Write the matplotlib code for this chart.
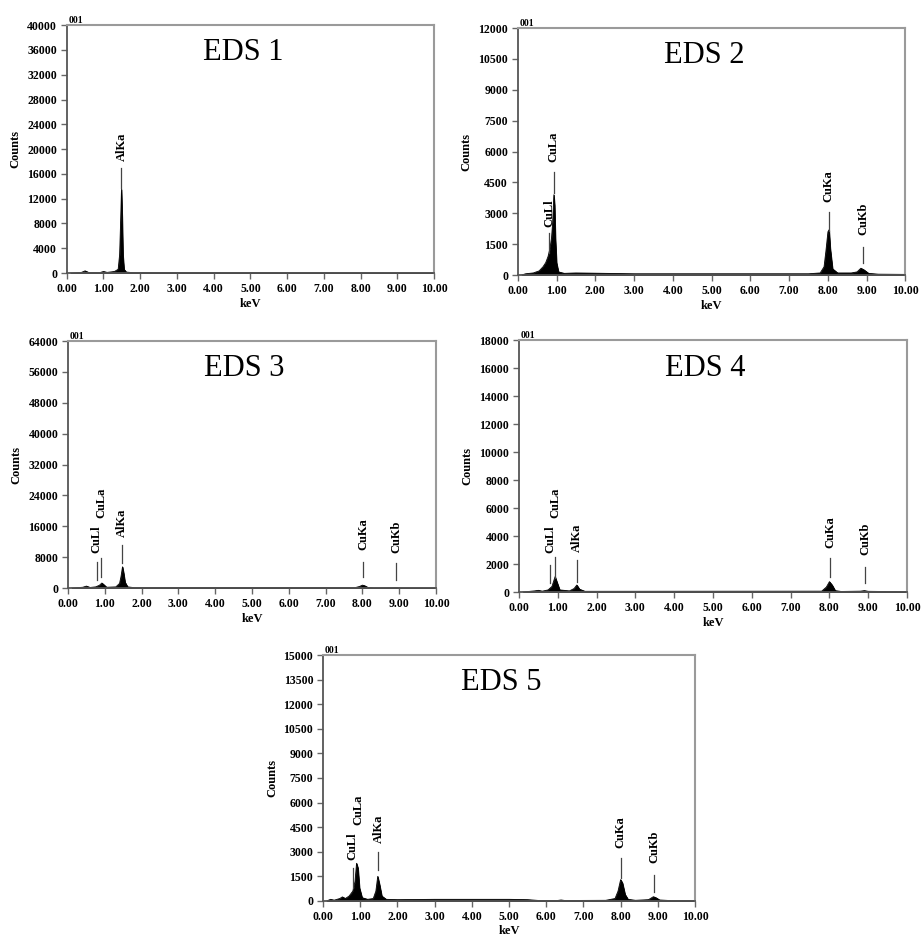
import matplotlib.pyplot as plt
import matplotlib.transforms as mtransforms
from matplotlib.ticker import FormatStrFormatter, MultipleLocator

plt.rcParams['font.family'] = ['Liberation Serif', 'DejaVu Serif']

# spectra: energy (keV) and counts
eds1_kev = [0.10, 0.40, 0.50, 0.60, 0.90, 1.00, 1.10, 1.30, 1.40, 1.44, 1.47, 1.49, 1.51, 1.53, 1.56, 1.62, 1.80, 10.0]
eds1_cts = [0, 100, 350, 80, 60, 250, 100, 250, 600, 3000, 9000, 13500, 9000, 3000, 600, 150, 60, 30]

eds2_kev = [0.10, 0.20, 0.40, 0.55, 0.65, 0.72, 0.78, 0.83, 0.87, 0.90, 0.93, 0.95, 0.97, 1.00, 1.05, 1.20,
            1.50, 3.00, 7.50, 7.80, 7.90, 7.95, 8.00, 8.03, 8.06, 8.12, 8.25, 8.60, 8.75, 8.85, 8.93, 9.05, 9.30, 10.0]
eds2_cts = [0, 60, 100, 200, 400, 600, 900, 1300, 1800, 2600, 3900, 3400, 1800, 600, 150, 80,
            100, 60, 60, 100, 400, 1200, 2100, 2200, 1300, 300, 100, 100, 150, 330, 250, 80, 40, 30]

eds3_kev = [0.10, 0.40, 0.50, 0.60, 0.75, 0.85, 0.92, 0.97, 1.05, 1.30, 1.40, 1.44, 1.48, 1.51, 1.55, 1.62,
            1.80, 7.80, 7.92, 8.00, 8.06, 8.15, 8.30, 8.85, 8.90, 9.00, 10.0]
eds3_cts = [0, 200, 500, 150, 300, 700, 1300, 900, 200, 300, 1200, 3000, 5500, 4000, 1500, 300,
            100, 100, 400, 750, 600, 150, 50, 80, 100, 50, 30]

eds4_kev = [0.10, 0.40, 0.50, 0.60, 0.75, 0.85, 0.93, 0.98, 1.05, 1.30, 1.42, 1.49, 1.56, 1.70,
            7.80, 7.92, 8.00, 8.07, 8.15, 8.30, 8.80, 8.90, 9.00, 10.0]
eds4_cts = [0, 80, 120, 60, 150, 400, 1100, 700, 150, 80, 250, 500, 200, 50,
            60, 350, 740, 500, 100, 40, 60, 100, 50, 20]

eds5_kev = [0.10, 0.20, 0.30, 0.45, 0.52, 0.60, 0.70, 0.80, 0.86, 0.90, 0.94, 0.98, 1.05, 1.20, 1.35, 1.42,
            1.47, 1.52, 1.58, 1.70, 2.00, 3.00, 4.00, 5.00, 5.50, 5.80, 6.30, 6.40, 6.50, 7.60, 7.85, 7.93,
            8.00, 8.05, 8.12, 8.20, 8.40, 8.75, 8.88, 8.95, 9.05, 9.30, 10.0]
eds5_cts = [0, 100, 50, 150, 250, 150, 300, 600, 1200, 2300, 2000, 800, 200, 100, 150, 600,
            1500, 1000, 300, 100, 80, 100, 100, 100, 80, 30, 30, 60, 30, 40, 150, 600,
            1300, 1100, 400, 100, 40, 80, 260, 200, 60, 30, 20]

titles = ['EDS 1', 'EDS 2', 'EDS 3', 'EDS 4', 'EDS 5']
y_max = [40000, 12000, 64000, 18000, 15000]
y_step = [4000, 1500, 8000, 2000, 1500]

# peak labels: name, energy (keV)
eds1_peaks = [('AlKa', 1.49)]
eds2_peaks = [('CuLl', 0.81), ('CuLa', 0.93), ('CuKa', 8.02), ('CuKb', 8.91)]
eds3_peaks = [('CuLl', 0.78), ('CuLa', 0.90), ('AlKa', 1.46), ('CuKa', 8.02), ('CuKb', 8.91)]
eds4_peaks = [('CuLl', 0.80), ('CuLa', 0.94), ('AlKa', 1.49), ('CuKa', 8.02), ('CuKb', 8.92)]
eds5_peaks = [('CuLl', 0.80), ('CuLa', 0.95), ('AlKa', 1.49), ('CuKa', 8.00), ('CuKb', 8.90)]

# marker line bottom/top and text bottom, as fractions of axes height
eds1_marks = [(0.345, 0.425, 0.45)]
eds2_marks = [(0.089, 0.17, 0.194), (0.333, 0.417, 0.457), (0.18, 0.255, 0.296), (0.049, 0.113, 0.16)]
eds3_marks = [(0.032, 0.106, 0.142), (0.045, 0.121, 0.283), (0.10, 0.174, 0.206), (0.045, 0.105, 0.154), (0.032, 0.101, 0.142)]
eds4_marks = [(0.036, 0.107, 0.155), (0.056, 0.139, 0.294), (0.04, 0.127, 0.159), (0.06, 0.135, 0.175), (0.036, 0.099, 0.147)]
eds5_marks = [(0.053, 0.134, 0.167), (None, None, 0.309), (0.126, 0.199, 0.236), (0.093, 0.175, 0.215), (0.037, 0.106, 0.154)]

spectra = [(eds1_kev, eds1_cts), (eds2_kev, eds2_cts), (eds3_kev, eds3_cts), (eds4_kev, eds4_cts), (eds5_kev, eds5_cts)]
peaks = [eds1_peaks, eds2_peaks, eds3_peaks, eds4_peaks, eds5_peaks]
marks = [eds1_marks, eds2_marks, eds3_marks, eds4_marks, eds5_marks]

# axes rectangles in figure fractions
rects = [[0.0723, 0.7114, 0.398, 0.262],
         [0.561, 0.7093, 0.420, 0.261],
         [0.0737, 0.3784, 0.3987, 0.261],
         [0.5623, 0.3742, 0.4204, 0.266],
         [0.350, 0.0476, 0.403, 0.260]]

fig = plt.figure(figsize=(9.23, 9.46), dpi=100)

for i in range(5):
    ax = fig.add_axes(rects[i])
    kev, cts = spectra[i]
    ax.fill_between(kev, cts, 0, color='black', lw=0.6)
    ax.plot(kev, cts, color='black', lw=0.6)
    ax.set_xlim(0, 10)
    ax.set_ylim(0, y_max[i])
    ax.xaxis.set_major_locator(MultipleLocator(1))
    ax.yaxis.set_major_locator(MultipleLocator(y_step[i]))
    ax.xaxis.set_major_formatter(FormatStrFormatter('%.2f'))
    ax.yaxis.set_major_formatter(FormatStrFormatter('%d'))
    ax.tick_params(direction='out', length=4, width=1, color='#666666', labelsize=8.5, pad=3)
    for lab in ax.get_xticklabels() + ax.get_yticklabels():
        lab.set_fontweight('bold')
    for side in ['top', 'right']:
        ax.spines[side].set_color('#9a9a9a')
        ax.spines[side].set_linewidth(1.5)
    for side in ['left', 'bottom']:
        ax.spines[side].set_color('#555555')
        ax.spines[side].set_linewidth(1.3)
    ax.set_xlabel('keV', fontsize=9, fontweight='bold', labelpad=2)
    ax.set_ylabel('Counts', fontsize=9, fontweight='bold', labelpad=4)
    ax.text(0.48, 0.89, titles[i], transform=ax.transAxes, fontsize=22,
            ha='center', va='center')
    ax.text(0.005, 1.0, '001', transform=ax.transAxes, fontsize=7,
            fontweight='bold', ha='left', va='bottom')

    trans = mtransforms.blended_transform_factory(ax.transData, ax.transAxes)
    for (name, e), (lo, hi, tb) in zip(peaks[i], marks[i]):
        if lo is not None:
            ax.plot([e, e], [lo, hi], color='#444444', lw=0.9, transform=trans)
        ax.text(e, tb, name, transform=trans, rotation=90, fontsize=9,
                fontweight='bold', ha='center', va='bottom')

fig.savefig('out.png', dpi=100)
